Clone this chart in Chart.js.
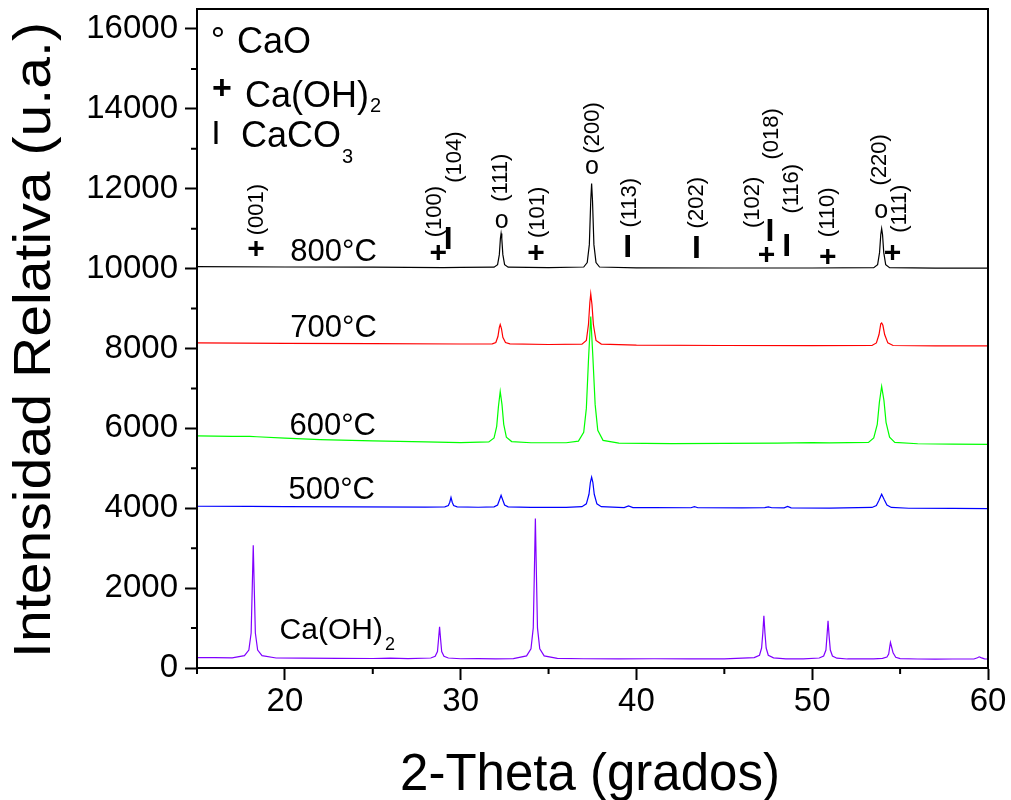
<!DOCTYPE html>
<html>
<head>
<meta charset="utf-8">
<script src="https://cdn.jsdelivr.net/npm/chart.js@4.4.0/dist/chart.umd.min.js"></script>
<style>
body { margin: 0; background: #fff; }
</style>
</head>
<body>
<canvas id="myChart" width="1011" height="800"></canvas>
<script>
var FONT = '"Liberation Sans", Arial, Helvetica, sans-serif';

// [2-theta, intensity]
var s800 = [
  [15,10050],[20,10040],[25,10035],[29,10025],[30,10030],[31.9,10035],
  [32.1,10100],[32.2,10350],[32.26,10750],[32.3,10880],[32.34,10750],[32.4,10350],[32.5,10100],[32.7,10035],
  [35,10025],[37.0,10040],[37.2,10150],[37.32,10600],[37.4,11700],[37.45,12130],[37.5,11700],[37.58,10600],[37.7,10150],[37.9,10040],
  [40,10020],[45,10015],[50,10015],[53.5,10025],
  [53.72,10100],[53.83,10400],[53.9,10850],[53.95,11000],[54.0,10850],[54.07,10400],[54.18,10100],[54.4,10025],
  [57,10010],[60,10010]
];
var s700 = [
  [15,8140],[20,8130],[25,8120],[30,8112],[31.8,8115],
  [32.0,8150],[32.12,8300],[32.2,8530],[32.25,8600],[32.32,8500],[32.4,8280],[32.55,8150],[32.8,8115],
  [35,8100],[36.9,8110],[37.15,8200],[37.27,8600],[37.35,9150],[37.4,9370],[37.47,9100],[37.55,8600],[37.7,8200],[38.0,8110],
  [40,8085],[45,8075],[50,8070],[53.4,8075],
  [53.65,8140],[53.8,8350],[53.9,8620],[53.95,8640],[54.02,8580],[54.12,8350],[54.3,8140],[54.6,8075],
  [57,8065],[60,8065]
];
var s600 = [
  [15,5810],[17,5800],[18,5800],[18.4,5790],[20,5755],[22,5720],[25,5685],[28,5660],[30,5645],[31.6,5660],
  [31.9,5760],[32.05,6050],[32.15,6550],[32.25,6925],[32.35,6600],[32.45,6100],[32.6,5780],[32.9,5670],
  [34,5640],[36,5640],[36.7,5680],[37.0,5900],[37.15,6500],[37.27,7700],[37.4,8800],[37.52,7800],[37.65,6600],[37.8,5950],[38.1,5700],
  [39,5630],[42,5620],[45,5625],[48,5630],[50,5645],[51,5635],[53.2,5650],
  [53.5,5760],[53.7,6100],[53.82,6650],[53.95,7050],[54.08,6700],[54.2,6150],[54.4,5780],[54.7,5650],
  [56,5615],[58,5605],[60,5600]
];
var s500 = [
  [15,4050],[18,4045],[20,4040],[24,4035],[28,4030],[29.1,4035],
  [29.3,4070],[29.38,4150],[29.45,4270],[29.52,4150],[29.6,4070],[29.8,4035],
  [31,4025],[31.9,4035],[32.1,4080],[32.2,4200],[32.3,4325],[32.4,4200],[32.5,4080],[32.7,4035],
  [34,4020],[36,4020],[36.9,4040],[37.15,4110],[37.3,4350],[37.38,4650],[37.45,4780],[37.52,4650],[37.6,4350],[37.75,4110],[38.0,4040],
  [39.3,4015],[39.55,4060],[39.8,4015],[41,4015],[43.1,4012],[43.3,4040],[43.5,4012],[46,4010],
  [47.3,4015],[47.5,4035],[47.7,4012],[48.4,4010],[48.6,4045],[48.8,4010],[51,4005],[53.4,4020],
  [53.65,4070],[53.8,4200],[53.95,4350],[54.1,4210],[54.25,4080],[54.5,4020],
  [55.5,4000],[58,3995],[60,3990]
];
var sCaOH2 = [
  [15,262],[16,258],[17,255],[17.7,310],
  [17.95,450],[18.08,875],[18.14,1950],[18.2,3075],[18.26,1950],[18.32,875],[18.45,450],[18.7,310],
  [19.5,250],[21,245],[23,240],[25,238],[26,245],[27,236],[28.3,251],
  [28.55,291],[28.68,410],[28.74,712],[28.8,1030],[28.86,712],[28.92,410],[29.05,291],[29.3,251],
  [30,232],[31,236],[32,230],[33,233],[33.75,302],
  [34.0,478],[34.13,1004],[34.19,2337],[34.25,3740],[34.31,2337],[34.37,1004],[34.5,478],[34.75,302],
  [35.5,240],[37,232],[39,230],[41,232],[43,228],[45,230],[46.7,260],
  [47.0,320],[47.12,500],[47.19,880],[47.25,1310],[47.31,880],[47.38,500],[47.5,320],[47.8,255],
  [48.5,230],[49.5,228],[50.4,250],
  [50.65,300],[50.78,450],[50.84,800],[50.9,1180],[50.96,800],[51.03,450],[51.15,300],[51.4,245],
  [52,226],[53.5,228],[54.0,240],
  [54.25,275],[54.35,350],[54.4,500],[54.45,640],[54.52,520],[54.6,380],[54.75,270],[55.0,235],
  [56,225],[57,223],[58,225],[59.2,225],[59.4,255],[59.5,280],[59.6,260],[59.8,230],[60,225]
];

var xTicks = [20, 30, 40, 50, 60];
var xMinor = [15, 25, 35, 45, 55];
var yTicks = [0, 2000, 4000, 6000, 8000, 10000, 12000, 14000, 16000];
var yMinor = [1000, 3000, 5000, 7000, 9000, 11000, 13000, 15000];

// labels: [text, 2-theta, intensity]
var tempLabels = [
  ['800°C', 20.31, 10200],
  ['700°C', 20.31, 8280],
  ['600°C', 20.26, 5825],
  ['500°C', 20.20, 4225]
];
var millerLabels = [
  ['(001)', 18.42, 11475], ['(100)', 28.55, 11425], ['(104)', 29.69, 12790],
  ['(111)', 32.28, 12275], ['(101)', 34.40, 11410], ['(200)', 37.53, 13525],
  ['(113)', 39.63, 11650], ['(202)', 43.44, 11650], ['(102)', 46.62, 11660],
  ['(018)', 47.68, 13375], ['(116)', 48.82, 12000], ['(110)', 50.88, 11410],
  ['(220)', 53.84, 12725], ['(111)', 54.97, 11500]
];
var phaseMarks = [
  ['+', 18.36, 10475], ['+', 28.72, 10375], ['I', 29.29, 10700],
  ['o', 32.34, 11160], ['+', 34.29, 10380], ['o', 37.47, 12530],
  ['I', 39.50, 10500], ['I', 43.42, 10475], ['I', 47.59, 10910],
  ['+', 47.40, 10325], ['I', 48.55, 10540], ['+', 50.88, 10280],
  ['o', 53.93, 11410], ['+', 54.57, 10375]
];

var toXY = function(arr){
  return arr.map(function(p){ return {x: p[0], y: p[1]}; });
};

function withSub(ctx, main, sub, x, y, size, subSize, drop, gap) {
  ctx.font = size + 'px ' + FONT;
  ctx.textAlign = 'left';
  ctx.textBaseline = 'alphabetic';
  ctx.fillText(main, x, y);
  var w = ctx.measureText(main).width;
  ctx.font = subSize + 'px ' + FONT;
  ctx.fillText(sub, x + w + gap, y + drop);
}

var decor = {
  id: 'decor',
  afterDraw: function(chart) {
    var ctx = chart.ctx, a = chart.chartArea;
    var xs = chart.scales.x, ys = chart.scales.y;
    ctx.save();
    ctx.strokeStyle = '#000';
    ctx.fillStyle = '#000';

    // frame
    ctx.lineWidth = 2;
    ctx.strokeRect(a.left, a.top, a.right - a.left, a.bottom - a.top);

    // minor ticks
    ctx.beginPath();
    xMinor.forEach(function(v){
      var px = xs.getPixelForValue(v);
      ctx.moveTo(px, a.bottom); ctx.lineTo(px, a.bottom + 6);
    });
    yMinor.forEach(function(v){
      var py = ys.getPixelForValue(v);
      ctx.moveTo(a.left, py); ctx.lineTo(a.left - 6, py);
    });
    ctx.stroke();

    // axis titles
    ctx.font = '51px ' + FONT;
    ctx.textAlign = 'center';
    ctx.textBaseline = 'alphabetic';
    ctx.fillText('2-Theta (grados)', 590, 790);

    ctx.save();
    ctx.translate(50, 340);
    ctx.rotate(-Math.PI / 2);
    ctx.scale(1.1, 1);
    ctx.font = '52px ' + FONT;
    ctx.fillText('Intensidad Relativa (u.a.)', 0, 0);
    ctx.restore();

    // legend
    ctx.font = '36px ' + FONT;
    ctx.textAlign = 'center';
    ctx.fillText('°', a.left + 21, 53);
    ctx.textAlign = 'left';
    ctx.fillText('CaO', a.left + 40, 53);
    ctx.font = 'bold 34px ' + FONT;
    ctx.textAlign = 'center';
    ctx.textBaseline = 'middle';
    ctx.fillText('+', a.left + 25, 90);
    ctx.font = '34px ' + FONT;
    ctx.fillText('I', a.left + 19, 135);
    withSub(ctx, 'Ca(OH)', '2', a.left + 48, 107, 36, 20, 5, 1);
    withSub(ctx, 'CaCO', '3', a.left + 44, 147, 36, 20, 16, 1);

    // temperature labels
    tempLabels.forEach(function(t){
      ctx.font = '31px ' + FONT;
      ctx.textAlign = 'left';
      ctx.textBaseline = 'alphabetic';
      ctx.fillText(t[0], xs.getPixelForValue(t[1]), ys.getPixelForValue(t[2]));
    });
    withSub(ctx, 'Ca(OH)', '2', xs.getPixelForValue(19.70), ys.getPixelForValue(725), 30, 18, 11, 2);

    // Miller indices, rotated
    ctx.font = '22px ' + FONT;
    ctx.textAlign = 'center';
    ctx.textBaseline = 'middle';
    millerLabels.forEach(function(m){
      ctx.save();
      ctx.translate(xs.getPixelForValue(m[1]), ys.getPixelForValue(m[2]));
      ctx.rotate(-Math.PI / 2);
      ctx.fillText(m[0], 0, 0);
      ctx.restore();
    });

    // phase marks
    phaseMarks.forEach(function(m){
      var px = xs.getPixelForValue(m[1]), py = ys.getPixelForValue(m[2]);
      ctx.textAlign = 'center';
      if (m[0] === 'o') {
        ctx.font = '25px ' + FONT;
        ctx.textBaseline = 'alphabetic';
        ctx.fillText('o', px, py + 6);
      } else if (m[0] === '+') {
        ctx.font = 'bold 30px ' + FONT;
        ctx.textBaseline = 'middle';
        ctx.fillText('+', px, py);
      } else {
        ctx.font = 'bold 32px ' + FONT;
        ctx.textBaseline = 'middle';
        ctx.fillText('I', px, py);
      }
    });
    ctx.restore();
  }
};

var ctx = document.getElementById('myChart');
var chart = new Chart(ctx, {
  type: 'line',
  data: {
    datasets: [
      { label: '800°C', data: toXY(s800), borderColor: '#000000' },
      { label: '700°C', data: toXY(s700), borderColor: '#ff0000' },
      { label: '600°C', data: toXY(s600), borderColor: '#00ff00' },
      { label: '500°C', data: toXY(s500), borderColor: '#0000ff' },
      { label: 'Ca(OH)2', data: toXY(sCaOH2), borderColor: '#8000ff' }
    ]
  },
  options: {
    responsive: false,
    animation: false,
    layout: { padding: { top: 9, right: 23, left: 0, bottom: 0 } },
    plugins: { legend: { display: false }, tooltip: { enabled: false } },
    elements: {
      point: { radius: 0 },
      line: { borderWidth: 1.2, tension: 0, fill: false }
    },
    scales: {
      x: {
        type: 'linear', min: 15, max: 60,
        afterBuildTicks: function(s){ s.ticks = xTicks.map(function(v){ return {value: v}; }); },
        afterFit: function(s){ s.height = 132; s.paddingLeft = 0; s.paddingRight = 0; },
        ticks: {
          color: '#000', font: { family: FONT, size: 33 }, padding: 2,
          maxRotation: 0, autoSkip: false,
          callback: function(v){ return String(v); }
        },
        grid: { drawOnChartArea: false, tickLength: 12, tickWidth: 2, tickColor: '#000' },
        border: { color: '#000', width: 2 }
      },
      y: {
        type: 'linear', min: 0, max: 16500,
        afterBuildTicks: function(s){ s.ticks = yTicks.map(function(v){ return {value: v}; }); },
        afterFit: function(s){ s.width = 197; s.paddingTop = 0; s.paddingBottom = 0; },
        ticks: {
          color: '#000', font: { family: FONT, size: 33 }, padding: 7,
          autoSkip: false,
          callback: function(v){ return String(v); }
        },
        grid: { drawOnChartArea: false, tickLength: 12, tickWidth: 2, tickColor: '#000' },
        border: { color: '#000', width: 2 }
      }
    }
  },
  plugins: [decor]
});
</script>
</body>
</html>
